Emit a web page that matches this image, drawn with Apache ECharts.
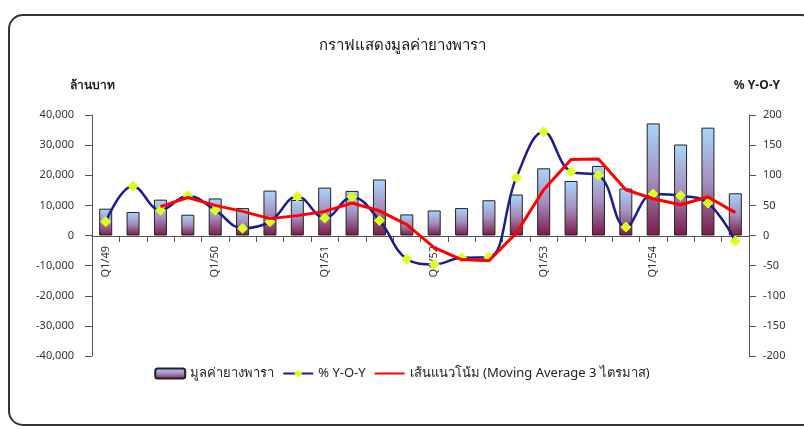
<!DOCTYPE html>
<html>
<head>
<meta charset="utf-8">
<script src="https://cdn.jsdelivr.net/npm/echarts@6/dist/echarts.min.js"></script>
<style>
html,body{margin:0;padding:0;background:#fff;}
#chart{width:804px;height:429px;}
</style>
</head>
<body>
<div id="chart"></div>
<script>
const categories = [
  'Q1/49','Q2/49','Q3/49','Q4/49',
  'Q1/50','Q2/50','Q3/50','Q4/50',
  'Q1/51','Q2/51','Q3/51','Q4/51',
  'Q1/52','Q2/52','Q3/52','Q4/52',
  'Q1/53','Q2/53','Q3/53','Q4/53',
  'Q1/54','Q2/54','Q3/54','Q4/54'
];
const rubberValue = [
  8900, 7800, 11900, 6900,
  12300, 9100, 14900, 11800,
  15900, 14800, 18600, 7000,
  8300, 9100, 11700, 13600,
  22300, 18100, 23100, 15600,
  37200, 30200, 35800, 14000
];
const yoy = [
  23, 82, 42, 66,
  42, 12, 23, 65,
  29, 64, 25, -39,
  -48, -37, -36, 96,
  172, 106, 100, 14,
  69, 66, 54, -9
];
const movingAvg = [
  null, null, 48, 63,
  50, 40, 28, 33,
  40, 54, 41, 18,
  -20, -40, -42, 4,
  76, 126, 127, 76,
  61, 51, 64, 38
];
const leftTicks = { min: -40000, max: 40000, interval: 10000 };
const rightTicks = { min: -200, max: 200, interval: 50 };

const FONT = "Tahoma, 'Noto Sans', 'DejaVu Sans', sans-serif";
const chart = echarts.init(document.getElementById('chart'));

function fmtComma(v) {
  const s = Math.abs(v).toString().replace(/\B(?=(\d{3})+(?!\d))/g, ',');
  return (v < 0 ? '-' : '') + s;
}

chart.setOption({
  backgroundColor: '#fff',
  animation: false,
  textStyle: { fontFamily: FONT },
  graphic: [
    {
      type: 'rect',
      shape: { x: 9, y: 15, width: 806, height: 410, r: 14 },
      style: { fill: 'none', stroke: '#333', lineWidth: 2 },
      z: -1
    },
    {
      type: 'text',
      left: 70, top: 80,
      style: { text: 'ล้านบาท', fontSize: 12, fontWeight: 'bold', fill: '#222', fontFamily: FONT }
    },
    {
      type: 'text',
      right: 24, top: 80,
      style: { text: '% Y-O-Y', fontSize: 12, fontWeight: 'bold', fill: '#222', fontFamily: FONT }
    }
  ],
  title: {
    text: 'กราฟแสดงมูลค่ายางพารา',
    left: 'center',
    top: 33,
    textStyle: { fontSize: 15, fontWeight: 'normal', color: '#111', fontFamily: FONT }
  },
  legend: {
    bottom: 44,
    left: 'center',
    itemGap: 8,
    itemWidth: 30,
    itemHeight: 10,
    textStyle: { fontSize: 13, color: '#222', fontFamily: FONT },
    data: [
      { name: 'มูลค่ายางพารา' },
      { name: '% Y-O-Y' },
      { name: 'เส้นแนวโน้ม (Moving Average 3 ไตรมาส)', itemStyle: { opacity: 0 } }
    ]
  },
  grid: { left: 92, right: 55, top: 115, bottom: 73 },
  xAxis: {
    type: 'category',
    data: categories,
    position: 'bottom',
    offset: -120,
    axisLine: { onZero: false, lineStyle: { color: '#555', width: 1 } },
    axisTick: { show: true, interval: 0, length: 6, lineStyle: { color: '#555' } },
    axisLabel: { interval: 3, rotate: 90, fontSize: 11, color: '#333', margin: 10 },
    splitLine: { show: false }
  },
  yAxis: [
    {
      type: 'value',
      min: leftTicks.min, max: leftTicks.max, interval: leftTicks.interval,
      axisLine: { show: true, lineStyle: { color: '#555' } },
      axisTick: { show: true, length: 7, lineStyle: { color: '#555' } },
      axisLabel: { fontSize: 11, color: '#333', margin: 18, formatter: fmtComma },
      splitLine: { show: false }
    },
    {
      type: 'value',
      min: rightTicks.min, max: rightTicks.max, interval: rightTicks.interval,
      axisLine: { show: true, lineStyle: { color: '#555' } },
      axisTick: { show: true, length: 7, lineStyle: { color: '#555' } },
      axisLabel: { fontSize: 11, color: '#333', margin: 14 },
      splitLine: { show: false }
    }
  ],
  series: [
    {
      name: 'มูลค่ายางพารา',
      type: 'bar',
      yAxisIndex: 0,
      data: rubberValue,
      barWidth: 13,
      itemStyle: {
        color: new echarts.graphic.LinearGradient(0, 0, 0, 1, [
          { offset: 0, color: '#a9d6fb' },
          { offset: 0.5, color: '#a58fc0' },
          { offset: 1, color: '#7a1a48' }
        ]),
        borderColor: '#222',
        borderWidth: 1
      },
      z: 1
    },
    {
      name: '% Y-O-Y',
      type: 'line',
      yAxisIndex: 1,
      data: yoy,
      smooth: 0.4,
      symbol: 'diamond',
      symbolSize: 10,
      lineStyle: { color: '#1c1c8a', width: 2.5 },
      itemStyle: { color: '#dcff1e', borderColor: '#dcff1e' },
      z: 3
    },
    {
      name: 'เส้นแนวโน้ม (Moving Average 3 ไตรมาส)',
      type: 'line',
      yAxisIndex: 1,
      data: movingAvg,
      smooth: false,
      showSymbol: false,
      symbol: 'none',
      lineStyle: { color: '#ff0000', width: 3 },
      itemStyle: { color: '#ff0000' },
      z: 4
    }
  ]
});
</script>
</body>
</html>
